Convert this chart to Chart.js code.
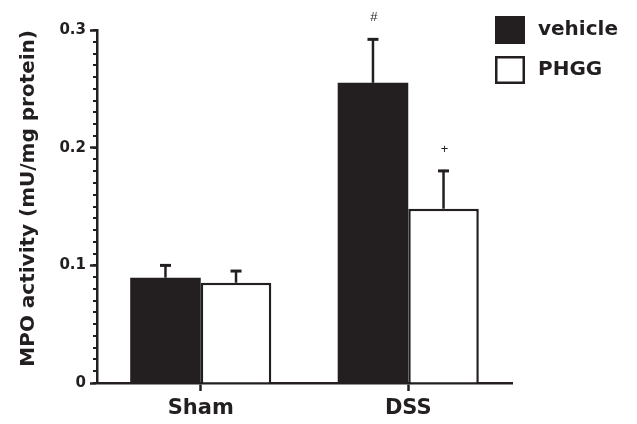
<!DOCTYPE html>
<html><head><meta charset="utf-8">
<script src="https://cdn.jsdelivr.net/npm/chart.js@4/dist/chart.umd.min.js"></script>
<style>html,body{margin:0;padding:0;background:#fff}#wrap{width:637px;height:424px}</style>
</head><body><div id="wrap"><canvas id="c" width="637" height="424"></canvas></div>
<script>
const categories = ['Sham', 'DSS'];
const seriesNames = ['vehicle', 'PHGG'];
const vehicleMeans = [0.0895, 0.2551];
const vehicleErrors = [0.0113, 0.0378];
const phggMeans = [0.0852, 0.1481];
const phggErrors = [0.0108, 0.0330];
const vehicleMarks = ['', '#'];
const phggMarks = ['', '+'];
const yTickValues = [0, 0.1, 0.2, 0.3];
const yMinorStep = 0.01;

const INK = '#231f20';
const FONT = '"DejaVu Sans", Verdana, sans-serif';

const errorBarPlugin = {
  id: 'errorBars',
  afterDatasetsDraw(chart) {
    const ctx = chart.ctx, ys = chart.scales.y;
    chart.data.datasets.forEach((ds, i) => {
      const meta = chart.getDatasetMeta(i);
      meta.data.forEach((bar, j) => {
        const top = ys.getPixelForValue(ds.data[j]);
        const capY = ys.getPixelForValue(ds.data[j] + ds.errors[j]);
        ctx.save();
        ctx.strokeStyle = INK; ctx.lineWidth = 2.5; ctx.lineCap = 'butt';
        ctx.beginPath();
        ctx.moveTo(bar.x, top); ctx.lineTo(bar.x, capY);
        ctx.stroke();
        ctx.lineWidth = 3;
        ctx.beginPath();
        ctx.moveTo(bar.x - 5.5, capY + 1); ctx.lineTo(bar.x + 5.5, capY + 1);
        ctx.stroke();
        const mark = ds.marks[j];
        if (mark) {
          ctx.fillStyle = INK;
          ctx.font = '13px "Liberation Sans", Arial, sans-serif';
          ctx.textAlign = 'center'; ctx.textBaseline = 'alphabetic';
          ctx.fillText(mark, bar.x + 1, capY - 17);
        }
        ctx.restore();
      });
    });
  }
};

const minorTickPlugin = {
  id: 'minorTicks',
  afterDraw(chart) {
    const ctx = chart.ctx, ys = chart.scales.y, x0 = chart.chartArea.left;
    ctx.save();
    ctx.strokeStyle = INK; ctx.lineWidth = 2;
    const n = Math.round((ys.max - ys.min) / yMinorStep);
    for (let k = 0; k <= n; k++) {
      const v = ys.min + k * yMinorStep;
      const y = Math.round(ys.getPixelForValue(v));
      ctx.beginPath(); ctx.moveTo(x0 - 4, y); ctx.lineTo(x0, y); ctx.stroke();
    }
    ctx.restore();
  }
};

const legendPlugin = {
  id: 'boxLegend',
  afterDraw(chart) {
    const ctx = chart.ctx;
    const bx = 495, bw = 30, bh = 28, tops = [16, 56];
    ctx.save();
    chart.data.datasets.forEach((ds, i) => {
      const y = tops[i];
      ctx.fillStyle = ds.backgroundColor;
      ctx.fillRect(bx, y, bw, bh);
      ctx.strokeStyle = INK; ctx.lineWidth = 2.5;
      ctx.strokeRect(bx + 1.25, y + 1.25, bw - 2.5, bh - 2.5);
      ctx.fillStyle = INK;
      ctx.font = 'bold 20px ' + FONT;
      ctx.textAlign = 'left'; ctx.textBaseline = 'middle';
      ctx.fillText(ds.label, 538, y + bh / 2);
    });
    ctx.restore();
  }
};

new Chart(document.getElementById('c'), {
  type: 'bar',
  data: {
    labels: categories,
    datasets: [
      { label: seriesNames[0], data: vehicleMeans, errors: vehicleErrors, marks: vehicleMarks,
        backgroundColor: INK, borderColor: INK, borderWidth: 0 },
      { label: seriesNames[1], data: phggMeans, errors: phggErrors, marks: phggMarks,
        backgroundColor: '#ffffff', borderColor: INK, borderWidth: 2.5 }
    ]
  },
  options: {
    responsive: false,
    devicePixelRatio: 1,
    animation: false,
    layout: { padding: { left: 0, top: 30, right: 125, bottom: 0 } },
    datasets: { bar: { categoryPercentage: 0.68, barPercentage: 1.0 } },
    plugins: { legend: { display: false }, tooltip: { enabled: false } },
    scales: {
      x: {
        offset: true,
        grid: { display: true, drawOnChartArea: false, offset: false, drawTicks: true,
                tickLength: 8, tickWidth: 2.5, tickColor: INK, color: INK },
        border: { display: true, color: INK, width: 2.5 },
        ticks: { color: INK, font: { family: FONT, size: 21, weight: 'bold' }, padding: 5 },
        afterFit(s) { s.height = 41; }
      },
      y: {
        min: 0, max: 0.3,
        afterBuildTicks(s) { s.ticks = yTickValues.map(v => ({ value: v })); },
        grid: { display: true, drawOnChartArea: false, drawTicks: true,
                tickLength: 7, tickWidth: 2.5, tickColor: INK, color: INK },
        border: { display: true, color: INK, width: 2.5 },
        ticks: { color: INK, font: { family: FONT, size: 15, weight: 'bold' }, padding: 4,
                 callback: v => v === 0 ? '0' : v.toFixed(1) },
        title: { display: true, text: 'MPO activity (mU/mg protein)', color: INK, align: 'end',
                 font: { family: FONT, size: 20, weight: 'bold' }, padding: { top: 17, bottom: 0 } },
        afterFit(s) { s.width = 97; }
      }
    }
  },
  plugins: [errorBarPlugin, minorTickPlugin, legendPlugin]
});
</script>
</body></html>
